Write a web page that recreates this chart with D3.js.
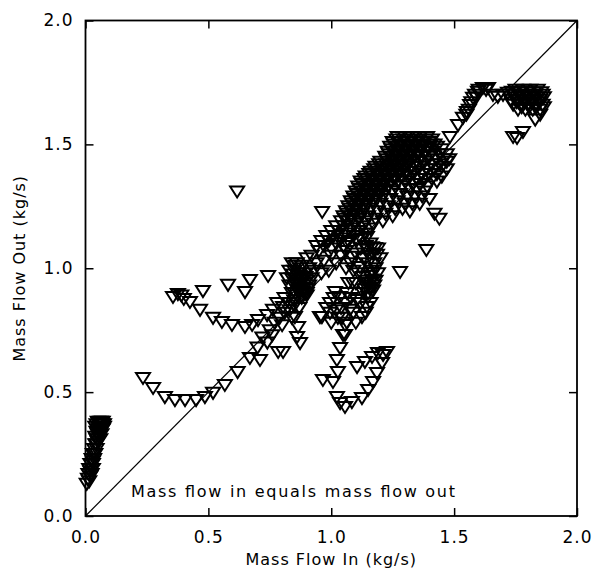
<!DOCTYPE html>
<html><head><meta charset="utf-8">
<script src="https://cdn.jsdelivr.net/npm/d3@7"></script>
<style>body{margin:0;background:#fff}</style>
</head><body><svg id="c" width="594" height="571"></svg>
<script>
const tickValues=[0,0.5,1.0,1.5,2.0];
const tickLabels=["0.0","0.5","1.0","1.5","2.0"];
const xTitle="Mass Flow In (kg/s)";
const yTitle="Mass Flow Out (kg/s)";
const note="Mass flow in equals mass flow out";

const originBand=[[0.005,0.13],[0.01,0.15],[0.012,0.17],[0.015,0.19],[0.02,0.16],[0.02,0.21],[0.025,0.19],[0.025,0.23],[0.03,0.21],[0.03,0.25],[0.035,0.23],[0.035,0.27],[0.04,0.25],[0.04,0.29],[0.045,0.27],[0.045,0.31],[0.04,0.32],[0.05,0.30],[0.05,0.33],[0.055,0.32],[0.045,0.34],[0.05,0.35],[0.06,0.34],[0.055,0.36],[0.06,0.37],[0.065,0.36],[0.07,0.37],[0.07,0.35],[0.045,0.37],[0.05,0.38],[0.06,0.38],[0.07,0.38],[0.075,0.37],[0.075,0.36],[0.065,0.33],[0.06,0.31],[0.04,0.36],
[0.015,0.14],[0.02,0.18],[0.03,0.22],[0.035,0.25],[0.045,0.29],[0.05,0.31],[0.055,0.34],[0.065,0.38],[0.055,0.375],[0.06,0.355],[0.03,0.19],[0.025,0.17]];
const lowerArc=[[0.234,0.557],[0.275,0.517],[0.323,0.48],[0.364,0.468],[0.405,0.468],[0.45,0.468],[0.486,0.48],[0.519,0.497],[0.567,0.529],[0.619,0.581],[0.669,0.638],[0.70,0.68],[0.71,0.63],[0.74,0.70],[0.784,0.662]];
const upperArc=[[0.356,0.884],[0.376,0.896],[0.39,0.89],[0.40,0.876],[0.425,0.864],[0.466,0.832],[0.478,0.908],[0.519,0.80],[0.555,0.783],[0.596,0.771],[0.649,0.763],[0.678,0.771],[0.702,0.791],[0.739,0.811],[0.763,0.832],[0.804,0.844],[0.58,0.933],[0.649,0.904],[0.669,0.953],[0.743,0.969],[0.83,0.86],[0.85,0.87]];
const diagonalRun=[[0.72,0.72],[0.75,0.75],[0.77,0.78],[0.79,0.80],[0.81,0.82],[0.83,0.83],[0.85,0.85],[0.76,0.73],[0.80,0.77],[0.84,0.80],[0.87,0.84],[0.88,0.88],[0.90,0.89],[0.78,0.86],[0.81,0.88]];
const midCluster=[[0.84,1.02],[0.86,1.02],[0.88,1.01],[0.85,0.99],[0.87,0.98],[0.89,0.98],[0.84,0.96],[0.86,0.95],[0.88,0.95],[0.90,0.95],[0.85,0.93],[0.87,0.92],[0.89,0.92],[0.91,0.93],[0.84,0.90],[0.86,0.89],[0.88,0.89],[0.90,0.90],[0.92,0.96],[0.93,0.99],[0.91,1.0],[0.85,0.87],[0.83,0.93],[0.83,0.99],[0.82,0.96],[0.92,1.05],[0.95,1.07],[0.94,1.02],[0.97,1.03],[1.0,1.05],[0.99,0.99],[1.02,1.02],[0.96,0.98],[0.90,1.04],[1.04,1.05],[1.06,1.07],
[0.855,1.01],[0.875,1.0],[0.865,0.97],[0.895,0.965],[0.855,0.94],[0.875,0.935],[0.895,0.94],[0.865,0.91],[0.885,0.905],[0.905,0.915],[0.845,0.975],[0.875,0.955]];
const midColumn=[[1.015,0.904],[1.036,0.884],[0.995,0.86],[0.954,0.803],[0.995,0.82],[1.027,0.80],[1.064,0.78],[1.056,0.731],[1.076,0.832],[1.105,0.872],[1.064,0.90],[1.088,0.94],[1.129,0.965],[1.117,1.005],[1.084,1.046],[1.064,1.102],[1.105,1.114],[1.145,1.126],[1.178,1.082],[1.186,1.054],[1.17,0.981],[1.158,0.92],[1.15,0.884],[1.145,0.844],[1.125,0.803],[1.14,0.93],[1.16,0.94],[1.15,0.9],[1.17,0.91],[1.18,0.95],[1.13,0.9],[1.16,0.97],[1.18,1.0],[1.15,1.02],[1.13,1.04],[1.17,1.06],[1.12,1.08],[1.10,1.06],[1.14,1.09],[1.16,1.1],[1.19,1.08],[1.20,1.04],[1.19,0.98],[1.11,0.98],[1.1,0.94],[1.12,0.86],[1.09,0.82],[1.1,0.78],[1.14,0.82],[1.16,0.86],[1.08,0.88],[1.06,0.86],[1.04,0.84],[1.02,0.83],[1.0,0.78],[0.98,0.84],[1.01,0.88],[1.07,0.94],[1.09,0.99],[1.06,1.0],[1.08,1.02],
[1.145,0.95],[1.165,0.955],[1.155,0.92],[1.175,0.93],[1.135,0.915],[1.165,0.99],[1.175,1.02],[1.155,1.05],[1.145,1.075],[1.165,1.085]];
const lowerHook=[[1.036,0.678],[1.023,0.63],[1.027,0.581],[0.966,0.549],[1.007,0.541],[1.023,0.48],[1.036,0.456],[1.056,0.44],[1.084,0.46],[1.125,0.476],[1.15,0.509],[1.17,0.541],[1.186,0.577],[1.207,0.618],[1.211,0.65],[1.19,0.658],[1.166,0.642],[1.137,0.622],[1.105,0.601],[1.227,0.662],[1.048,0.731],[1.056,0.771],[1.044,0.80],[0.962,0.803],[0.852,0.803],[0.865,0.763],[0.861,0.723],[0.873,0.698],[0.804,0.662]];
const bandCore=[
[1.265,1.52],[1.295,1.52],[1.325,1.52],[1.355,1.52],[1.385,1.52],[1.41,1.52],
[1.255,1.50],[1.285,1.50],[1.315,1.50],[1.345,1.50],[1.375,1.50],[1.405,1.50],
[1.245,1.48],[1.275,1.48],[1.305,1.48],[1.335,1.48],[1.365,1.48],[1.395,1.48],
[1.235,1.46],[1.265,1.46],[1.295,1.46],[1.325,1.46],[1.355,1.46],
[1.225,1.44],[1.255,1.44],[1.285,1.44],[1.315,1.44],
[1.195,1.42],[1.225,1.42],[1.255,1.42],[1.285,1.42],[1.315,1.42],
[1.175,1.40],[1.205,1.40],[1.235,1.40],[1.265,1.40],[1.295,1.40],
[1.155,1.38],[1.185,1.38],[1.215,1.38],[1.245,1.38],[1.275,1.38],
[1.135,1.36],[1.165,1.36],[1.195,1.36],[1.225,1.36],[1.255,1.36],
[1.125,1.34],[1.155,1.34],[1.185,1.34],[1.215,1.34],
[1.115,1.32],[1.145,1.32],[1.175,1.32],[1.205,1.32],
[1.105,1.30],[1.135,1.30],[1.165,1.30],[1.195,1.30],
[1.095,1.28],[1.125,1.28],[1.155,1.28],[1.185,1.28],
[1.085,1.26],[1.115,1.26],[1.145,1.26],
[1.075,1.24],[1.105,1.24],[1.135,1.24],
[1.065,1.22],[1.095,1.22],[1.125,1.22],
[1.055,1.20],[1.085,1.20],[1.115,1.20]];
const upperBand=[
[1.27,1.53],[1.30,1.53],[1.33,1.53],[1.36,1.53],[1.39,1.53],
[1.25,1.51],[1.28,1.51],[1.31,1.51],[1.34,1.51],[1.37,1.51],[1.40,1.51],[1.42,1.50],
[1.24,1.49],[1.27,1.49],[1.30,1.49],[1.33,1.49],[1.36,1.49],[1.39,1.49],[1.43,1.49],[1.45,1.48],
[1.23,1.47],[1.26,1.47],[1.29,1.47],[1.32,1.47],[1.35,1.47],[1.38,1.47],[1.41,1.47],[1.44,1.46],[1.47,1.46],
[1.22,1.45],[1.25,1.45],[1.28,1.45],[1.31,1.45],[1.34,1.45],[1.37,1.45],[1.40,1.45],[1.43,1.44],[1.46,1.44],
[1.20,1.43],[1.23,1.43],[1.26,1.43],[1.29,1.43],[1.32,1.43],[1.35,1.43],[1.38,1.43],[1.41,1.42],[1.44,1.42],[1.47,1.43],
[1.18,1.41],[1.21,1.41],[1.24,1.41],[1.27,1.41],[1.30,1.41],[1.33,1.41],[1.36,1.41],[1.39,1.40],[1.42,1.40],[1.45,1.41],
[1.16,1.39],[1.19,1.39],[1.22,1.39],[1.25,1.39],[1.28,1.39],[1.31,1.39],[1.34,1.39],[1.37,1.38],[1.40,1.38],[1.43,1.38],
[1.14,1.37],[1.17,1.37],[1.20,1.37],[1.23,1.37],[1.26,1.37],[1.29,1.37],[1.32,1.37],[1.35,1.36],[1.38,1.36],[1.41,1.36],
[1.12,1.35],[1.15,1.35],[1.18,1.35],[1.21,1.35],[1.24,1.35],[1.27,1.35],[1.30,1.35],[1.33,1.34],[1.36,1.34],[1.39,1.33],[1.43,1.35],
[1.11,1.33],[1.14,1.33],[1.17,1.33],[1.20,1.33],[1.23,1.33],[1.26,1.33],[1.29,1.33],[1.32,1.32],[1.35,1.32],[1.38,1.31],
[1.10,1.31],[1.13,1.31],[1.16,1.31],[1.19,1.31],[1.22,1.31],[1.25,1.31],[1.28,1.30],[1.31,1.29],[1.34,1.29],[1.37,1.29],[1.40,1.28],
[1.09,1.29],[1.12,1.29],[1.15,1.29],[1.18,1.29],[1.21,1.29],[1.24,1.28],[1.27,1.27],[1.30,1.26],[1.33,1.26],[1.36,1.26],
[1.08,1.27],[1.11,1.27],[1.14,1.27],[1.17,1.27],[1.20,1.26],[1.23,1.25],[1.26,1.24],[1.29,1.24],[1.32,1.23],
[1.07,1.25],[1.10,1.25],[1.13,1.25],[1.16,1.24],[1.19,1.23],[1.22,1.22],[1.25,1.21],
[1.06,1.23],[1.09,1.23],[1.12,1.22],[1.15,1.21],[1.18,1.20],[1.21,1.19],
[1.05,1.21],[1.08,1.21],[1.11,1.20],[1.14,1.19],[1.17,1.18],
[1.04,1.19],[1.07,1.19],[1.10,1.18],[1.13,1.17],[1.16,1.16],
[1.02,1.17],[1.05,1.17],[1.08,1.16],[1.11,1.15],[1.14,1.14],
[1.00,1.15],[1.03,1.15],[1.06,1.14],[1.09,1.13],[1.12,1.12],
[0.98,1.13],[1.01,1.13],[1.04,1.12],[1.07,1.11],
[0.96,1.11],[0.99,1.11],[1.02,1.10],[1.05,1.09],
[0.94,1.09],[0.97,1.09],[1.00,1.08],
[1.45,1.37],[1.47,1.40],[1.48,1.44]];
const scattered=[[0.617,1.31],[0.963,1.227],[1.28,0.985],[1.387,1.074],[1.42,1.22],[1.44,1.20]];
const topChain=[[1.483,1.53],[1.516,1.578],[1.536,1.607],[1.552,1.631],[1.565,1.659],[1.577,1.688],[1.597,1.712],[1.617,1.728],[1.638,1.728],[1.658,1.70],[1.678,1.692],[1.699,1.70],[1.719,1.708],[1.735,1.712],[1.56,1.64],[1.57,1.67],[1.585,1.70],[1.60,1.72],[1.63,1.72],[1.55,1.62],[1.59,1.69]];
const topCluster=[[1.75,1.72],[1.78,1.72],[1.81,1.72],[1.84,1.72],[1.74,1.70],[1.77,1.70],[1.80,1.70],[1.83,1.70],[1.86,1.70],[1.73,1.68],[1.76,1.68],[1.79,1.68],[1.82,1.68],[1.85,1.68],[1.74,1.66],[1.77,1.66],[1.80,1.66],[1.83,1.66],[1.86,1.66],[1.76,1.64],[1.79,1.64],[1.82,1.64],[1.85,1.64],[1.83,1.60],[1.85,1.62],[1.756,1.526],[1.78,1.55],[1.74,1.53],
[1.765,1.71],[1.795,1.71],[1.825,1.71],[1.855,1.71],[1.745,1.69],[1.775,1.69],[1.805,1.69],[1.835,1.69],[1.865,1.69],[1.755,1.67],[1.785,1.67],[1.815,1.67],[1.845,1.67],[1.775,1.65],[1.805,1.65],[1.835,1.65],[1.865,1.65]];

const series=[originBand,lowerArc,upperArc,diagonalRun,midCluster,midColumn,lowerHook,bandCore,upperBand,scattered,topChain,topCluster];

const svg=d3.select("#c");
const L=85.5,R=577,T=20.5,B=516;
const x=d3.scaleLinear().domain([0,2]).range([L,R]);
const y=d3.scaleLinear().domain([0,2]).range([B,T]);
const font="DejaVu Sans, sans-serif";

svg.append("line").attr("x1",x(0)).attr("y1",y(0)).attr("x2",x(2)).attr("y2",y(2))
 .attr("stroke","#000").attr("stroke-width",1.2);

const tri="M-7,-5L7,-5L0,6Z";
const g=svg.append("g");
series.forEach(s=>{
  g.selectAll(null).data(s).join("path")
   .attr("d",tri).attr("transform",d=>`translate(${x(d[0])},${y(d[1])})`)
   .attr("fill","none").attr("stroke","#000").attr("stroke-width",2);
});

const fmt=(d,i)=>tickLabels[i];
const ax=svg.append("g").attr("transform",`translate(0,${B})`)
 .call(d3.axisBottom(x).tickValues(tickValues).tickFormat(fmt).tickSizeInner(-8).tickSizeOuter(0).tickPadding(15));
const ay=svg.append("g").attr("transform",`translate(${L},0)`)
 .call(d3.axisLeft(y).tickValues(tickValues).tickFormat(fmt).tickSizeInner(-8).tickSizeOuter(0).tickPadding(12));
const at=svg.append("g").attr("transform",`translate(0,${T})`)
 .call(d3.axisTop(x).tickValues(tickValues).tickFormat("").tickSizeInner(-8).tickSizeOuter(0));
const ar=svg.append("g").attr("transform",`translate(${R},0)`)
 .call(d3.axisRight(y).tickValues(tickValues).tickFormat("").tickSizeInner(-8).tickSizeOuter(0));
[ax,ay,at,ar].forEach(a=>{
  a.select(".domain").remove();
  a.selectAll("line").attr("stroke","#000").attr("stroke-width",1.5);
  a.selectAll("text").attr("font-family",font).attr("font-size",17).attr("fill","#000").attr("letter-spacing",1);
});

svg.append("rect").attr("x",L).attr("y",T).attr("width",R-L).attr("height",B-T)
 .attr("fill","none").attr("stroke","#000").attr("stroke-width",1.8);

svg.append("text").attr("x",(L+R)/2).attr("y",565).attr("text-anchor","middle")
 .attr("font-family",font).attr("font-size",16).attr("letter-spacing",1).text(xTitle);
svg.append("text").attr("transform",`translate(25,${(T+B)/2}) rotate(-90)`).attr("text-anchor","middle")
 .attr("font-family",font).attr("font-size",16).attr("letter-spacing",1).text(yTitle);
svg.append("text").attr("x",131).attr("y",497).attr("font-family",font).attr("font-size",16)
 .attr("textLength",324).attr("lengthAdjust","spacing").text(note);
</script></body></html>
